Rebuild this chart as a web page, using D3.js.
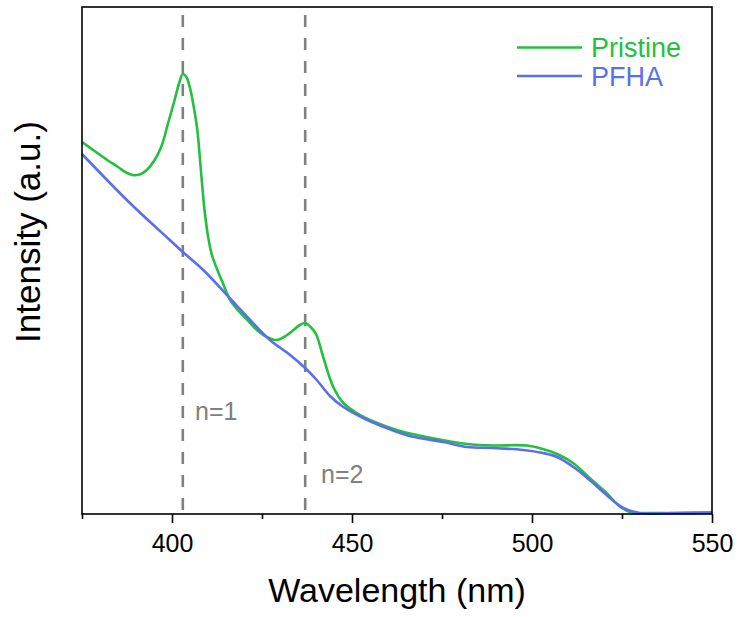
<!DOCTYPE html>
<html>
<head>
<meta charset="utf-8">
<script src="https://cdn.jsdelivr.net/npm/d3@7"></script>
<style>
  html, body { margin: 0; padding: 0; background: #fff; }
  svg { display: block; font-family: Arial, "Liberation Sans", sans-serif; }
</style>
</head>
<body>
<svg id="chart" width="739" height="617"></svg>
<script>
// Wavelength (nm) / intensity (a.u.)
const pristineX = [375, 378.5, 382, 385, 387, 389, 391, 393, 395, 397, 399, 400.5, 402, 403, 404, 405, 406, 407, 408, 409, 410, 411, 412.5, 414, 416, 418, 420.7, 423, 425.4, 429, 432, 435.5, 437, 438.5, 440, 442, 444.8, 447.6, 451.3, 457, 462.4, 468, 475, 482, 489, 498.5, 503, 507, 511.4, 516, 520.7, 524.4, 528, 531, 540, 550];
const pristineY = [372, 363, 354, 347, 342, 339, 339.5, 344, 353, 367, 392, 411, 431, 440, 437, 426, 408, 385, 345, 305, 278, 260, 245, 232, 215, 205, 195, 186, 179, 174, 179, 189, 191, 187, 180, 157, 127, 111, 101, 91, 84, 79, 74, 70, 68.5, 68.5, 65, 60, 51, 36, 21, 7.5, 1, 1, 1, 1.5];

const pfhaX = [375, 388.3, 399.4, 403, 408.7, 416, 421.7, 427.2, 432.8, 437, 440.2, 443.9, 447.6, 453.1, 459.6, 466, 475.4, 482, 489.3, 497.6, 503, 507, 511.5, 516, 520.7, 525.4, 530, 540, 550];
const pfhaY = [360, 311, 274, 262, 244, 216, 194, 174, 159, 146, 134, 118, 107, 96, 86, 78, 72, 67, 66, 64, 61, 57, 47, 34, 19, 6, 1, 1, 1.5];

const seriesNames = ['Pristine', 'PFHA'];
const seriesColors = ['#23c03f', '#5a6ef0'];
const majorTicks = [400, 450, 500, 550];
const minorTicks = [375, 425, 475, 525];
const peakLines = [403, 437];
const peakLabels = ['n=1', 'n=2'];

const margin = { top: 7, right: 27, bottom: 103, left: 82 };
const width = 739, height = 617;

const svg = d3.select('#chart');

const x = d3.scaleLinear().domain([375, 550]).range([margin.left, width - margin.right]);
const y = d3.scaleLinear().domain([0, 507]).range([height - margin.bottom, margin.top]);

const line = d3.line()
  .x(d => x(d[0]))
  .y(d => y(d[1]))
  .curve(d3.curveCatmullRom.alpha(0.5));

// dashed exciton markers
svg.append('g')
  .selectAll('line')
  .data(peakLines)
  .join('line')
    .attr('x1', d => x(d)).attr('x2', d => x(d))
    .attr('y1', margin.top + 8).attr('y2', y(0))
    .attr('stroke', '#808080')
    .attr('stroke-width', 2.6)
    .attr('stroke-dasharray', '12,11');

// peak labels
const labelPos = [[195, 420], [321, 483]];
svg.append('g')
  .selectAll('text')
  .data(peakLabels)
  .join('text')
    .attr('x', (d, i) => labelPos[i][0])
    .attr('y', (d, i) => labelPos[i][1])
    .attr('fill', '#808080')
    .style('font-size', '25px')
    .text(d => d);

// curves
const data = [
  d3.zip(pristineX, pristineY),
  d3.zip(pfhaX, pfhaY)
];
svg.append('g')
  .selectAll('path')
  .data(data)
  .join('path')
    .attr('d', line)
    .attr('fill', 'none')
    .attr('stroke', (d, i) => seriesColors[i])
    .attr('stroke-width', 2.6)
    .attr('stroke-linejoin', 'round');

// frame
svg.append('rect')
  .attr('x', x(375)).attr('y', y(507))
  .attr('width', x(550) - x(375))
  .attr('height', y(0) - y(507))
  .attr('fill', 'none')
  .attr('stroke', '#000')
  .attr('stroke-width', 1.6);

// x axis: major + minor ticks
const xAxis = svg.append('g')
  .attr('transform', `translate(0,${y(0)})`)
  .call(d3.axisBottom(x).tickValues(majorTicks).tickSize(9).tickPadding(11).tickFormat(d3.format('d')));
xAxis.select('.domain').remove();
xAxis.selectAll('.tick line').attr('stroke', '#000').attr('stroke-width', 1.6);
xAxis.selectAll('.tick text')
  .style('font-size', '25px')
  .style('font-family', 'Arial, "Liberation Sans", sans-serif')
  .attr('fill', '#000');

const xMinor = svg.append('g')
  .attr('transform', `translate(0,${y(0)})`)
  .call(d3.axisBottom(x).tickValues(minorTicks).tickSize(5).tickFormat(''));
xMinor.select('.domain').remove();
xMinor.selectAll('.tick line').attr('stroke', '#000').attr('stroke-width', 1.6);

// axis titles
svg.append('text')
  .attr('x', (x(375) + x(550)) / 2)
  .attr('y', 602)
  .attr('text-anchor', 'middle')
  .style('font-size', '34px')
  .text('Wavelength (nm)');

svg.append('text')
  .attr('transform', 'translate(40,232) rotate(-90)')
  .attr('text-anchor', 'middle')
  .style('font-size', '35px')
  .text('Intensity (a.u.)');

// legend
const legend = svg.append('g')
  .selectAll('g')
  .data(seriesNames)
  .join('g')
    .attr('transform', (d, i) => `translate(517,${47.5 + i * 28.5})`);
legend.append('line')
  .attr('x1', 0).attr('x2', 65)
  .attr('stroke', (d, i) => seriesColors[i])
  .attr('stroke-width', 2.6);
legend.append('text')
  .attr('x', 74)
  .attr('y', 9.5)
  .attr('fill', (d, i) => seriesColors[i])
  .style('font-size', '27px')
  .text(d => d);
</script>
</body>
</html>
